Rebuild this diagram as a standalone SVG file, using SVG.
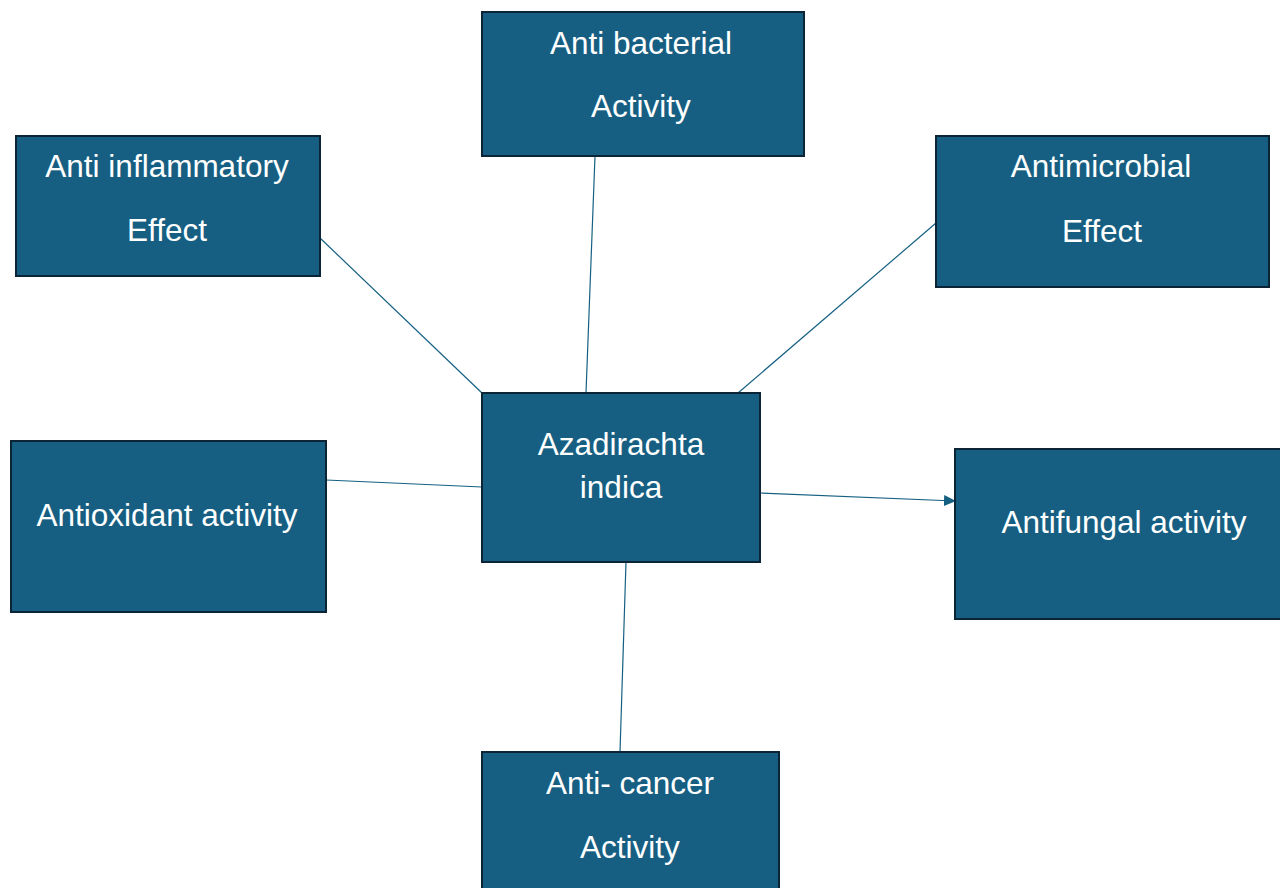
<svg xmlns="http://www.w3.org/2000/svg" width="1280" height="888" viewBox="0 0 1280 888">
<style>
.box{fill:#175f82;stroke:#0c2536;stroke-width:2}
.t{font-family:"Liberation Sans",Arial,sans-serif;font-size:31.5px;fill:#ffffff;text-anchor:middle}
.c{stroke:#156082;stroke-width:1.2;fill:none}
</style>
<defs>
<marker id="arr" markerWidth="12" markerHeight="12" refX="11" refY="6" orient="auto" markerUnits="userSpaceOnUse">
<path d="M0,0.5 L12,6 L0,11.5 Z" fill="#156082"/>
</marker>
</defs>
<rect width="1280" height="888" fill="#ffffff"/>
<g id="connectors">
<line class="c" x1="320" y1="238" x2="482" y2="393"/>
<line class="c" x1="595" y1="156" x2="586" y2="393"/>
<line class="c" x1="936" y1="223" x2="738" y2="393"/>
<line class="c" x1="326" y1="480" x2="482" y2="487"/>
<line class="c" x1="760" y1="493" x2="955" y2="501" marker-end="url(#arr)"/>
<line class="c" x1="626" y1="562" x2="620" y2="752"/>
</g>
<g id="node-antibacterial">
<rect class="box" x="482" y="12" width="322" height="144"/>
<text class="t" x="641" y="54">Anti bacterial</text>
<text class="t" x="641" y="117">Activity</text>
</g>
<g id="node-antiinflammatory">
<rect class="box" x="16" y="136" width="304" height="140"/>
<text class="t" x="167" y="177">Anti inflammatory</text>
<text class="t" x="167" y="241">Effect</text>
</g>
<g id="node-antimicrobial">
<rect class="box" x="936" y="136" width="333" height="151"/>
<text class="t" x="1101" y="177">Antimicrobial</text>
<text class="t" x="1102" y="242">Effect</text>
</g>
<g id="node-center">
<rect class="box" x="482" y="393" width="278" height="169"/>
<text class="t" x="621" y="455">Azadirachta</text>
<text class="t" x="621" y="498">indica</text>
</g>
<g id="node-antioxidant">
<rect class="box" x="11" y="441" width="315" height="171"/>
<text class="t" x="167" y="526">Antioxidant activity</text>
</g>
<g id="node-antifungal">
<rect class="box" x="955" y="449" width="330" height="170"/>
<text class="t" x="1124" y="533">Antifungal activity</text>
</g>
<g id="node-anticancer">
<rect class="box" x="482" y="752" width="297" height="140"/>
<text class="t" x="630" y="794">Anti- cancer</text>
<text class="t" x="630" y="858">Activity</text>
</g>
</svg>
